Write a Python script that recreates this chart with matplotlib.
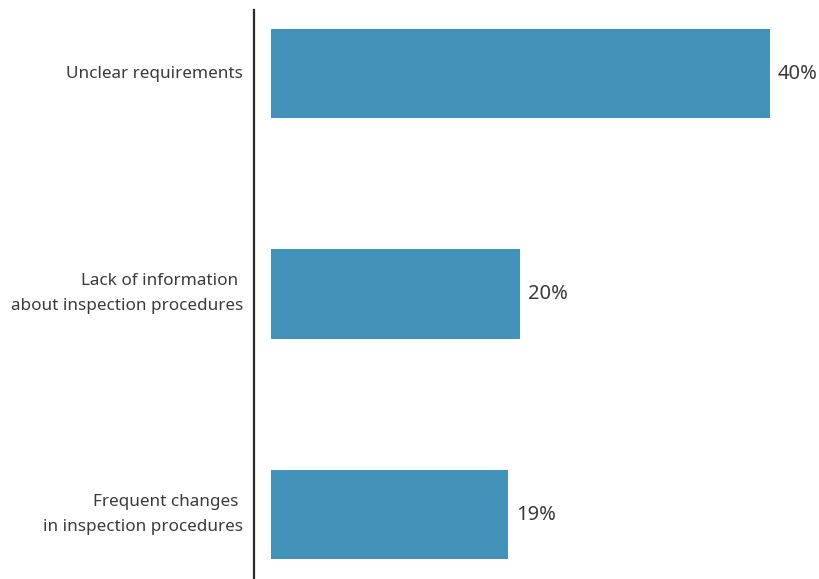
import matplotlib.pyplot as plt
from matplotlib.transforms import ScaledTranslation

categorias = [
    'Unclear requirements',
    'Lack of information \nabout inspection procedures',
    'Frequent changes \nin inspection procedures',
]
percentuais = [40, 20, 19]

cor_barra = '#4392B9'
cor_texto = '#3a3a3a'

plt.rcParams['font.family'] = ['Noto Sans', 'DejaVu Sans']

fig = plt.figure(figsize=(8.19, 5.79), dpi=100)
ax = fig.add_axes([254 / 819, 0, 1 - 254 / 819, 1 - 10 / 579])

posicoes = list(range(len(categorias)))
ax.barh(posicoes, percentuais, height=0.404, color=cor_barra)

for y, v in zip(posicoes, percentuais):
    ax.text(v + 0.62, y, f'{v}%', va='center', ha='left',
            fontsize=14.5, color=cor_texto, fontweight='light')

ax.set_yticks(posicoes)
ax.set_yticklabels(categorias, fontsize=12.3, color=cor_texto,
                   linespacing=1.75, fontweight='light')
ax.tick_params(axis='y', length=0, pad=8)

# rótulos de duas linhas sobem um pouco
for rotulo in ax.get_yticklabels():
    dy = 0.07 if '\n' in rotulo.get_text() else 0.015
    rotulo.set_transform(rotulo.get_transform()
                         + ScaledTranslation(0, dy, fig.dpi_scale_trans))

ax.set_xticks([])
ax.set_xlim(-1.363, 43.93)
ax.set_ylim(2.2925, -0.288)

for lado in ['top', 'right', 'bottom']:
    ax.spines[lado].set_visible(False)
ax.spines['left'].set_linewidth(1.6)
ax.spines['left'].set_color('#2b2b2b')

fig.savefig('out.png', dpi=100)
